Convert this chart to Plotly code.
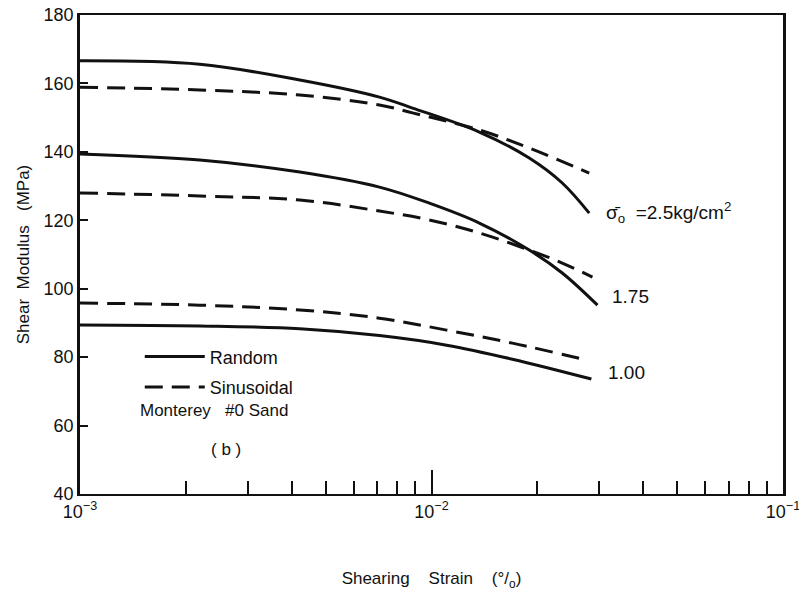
import math
import plotly.graph_objects as go

# ---- data (shear strain in %, shear modulus in MPa) ----
strain_r25 = [0.0010, 0.00219, 0.00422, 0.00711, 0.00883, 0.01368, 0.01897, 0.02355, 0.0281]
g_r25 = [166.6, 165.6, 161.0, 156.0, 152.8, 145.8, 138.2, 130.9, 122.1]

strain_s25 = [0.0010, 0.00219, 0.00422, 0.00711, 0.00883, 0.01368, 0.01897, 0.0281]
g_s25 = [158.9, 158.1, 156.6, 153.7, 151.4, 146.4, 141.1, 133.8]

strain_r175 = [0.0010, 0.00219, 0.00422, 0.00711, 0.00986, 0.01368, 0.01897, 0.02355, 0.02966]
g_r175 = [139.4, 137.6, 134.1, 129.7, 125.0, 119.2, 111.3, 104.6, 95.2]

strain_s175 = [0.0010, 0.00219, 0.00422, 0.00711, 0.00986, 0.01368, 0.01897, 0.02355, 0.0287]
g_s175 = [128.0, 127.1, 125.9, 122.7, 120.1, 116.3, 111.3, 107.5, 103.4]

strain_r100 = [0.0010, 0.00219, 0.00422, 0.00711, 0.01104, 0.01698, 0.0285]
g_r100 = [89.4, 89.1, 88.3, 86.3, 83.5, 79.4, 73.6]

strain_s100 = [0.0010, 0.00219, 0.00422, 0.00711, 0.01104, 0.01698, 0.02754]
g_s100 = [95.8, 95.2, 93.8, 91.4, 87.9, 84.1, 79.2]

curve_labels = ["σ̄<sub>o</sub>  =2.5kg/cm<sup>2</sup>", "1.75", "1.00"]
label_x = [0.031, 0.0321, 0.0314]
label_y = [122.4, 97.6, 75.4]

x_major = [0.001, 0.01, 0.1]
x_major_text = ["10<sup>−3</sup>", "10<sup>−2</sup>", "10<sup>−1</sup>"]
x_minor = [2e-3, 3e-3, 4e-3, 5e-3, 6e-3, 7e-3, 8e-3, 9e-3,
           2e-2, 3e-2, 4e-2, 5e-2, 6e-2, 7e-2, 8e-2, 9e-2]
y_ticks = [40, 60, 80, 100, 120, 140, 160, 180]

FONT = "Liberation Sans, Arial, sans-serif"
INK = "#111111"

fig = go.Figure()

random_sets = [(strain_r25, g_r25), (strain_r175, g_r175), (strain_r100, g_r100)]
sinus_sets = [(strain_s25, g_s25), (strain_s175, g_s175), (strain_s100, g_s100)]

for i, (xs, ys) in enumerate(random_sets):
    fig.add_trace(go.Scatter(
        x=xs, y=ys, mode="lines", line=dict(color=INK, width=3, shape="spline", smoothing=1.0),
        name="Random", legendgroup="r", showlegend=(i == 0)))
for i, (xs, ys) in enumerate(sinus_sets):
    fig.add_trace(go.Scatter(
        x=xs, y=ys, mode="lines",
        line=dict(color=INK, width=3, dash="18px,9px", shape="spline", smoothing=1.0),
        name="Sinusoidal", legendgroup="s", showlegend=(i == 0)))

for txt, lx, ly in zip(curve_labels, label_x, label_y):
    fig.add_annotation(x=math.log10(lx), y=ly, xref="x", yref="y", text=txt, showarrow=False,
                       xanchor="left", yanchor="middle",
                       font=dict(family=FONT, size=19, color=INK))

fig.add_annotation(x=0.0825, y=0.175, xref="paper", yref="paper",
                   text="Monterey   #0 Sand", showarrow=False, xanchor="left", yanchor="middle",
                   font=dict(family=FONT, size=17, color=INK))
fig.add_annotation(x=0.208, y=0.092, xref="paper", yref="paper",
                   text="( b )", showarrow=False, xanchor="center", yanchor="middle",
                   font=dict(family=FONT, size=17, color=INK))

fig.update_layout(
    width=799, height=593,
    margin=dict(l=80, r=16, t=15, b=99),
    paper_bgcolor="white", plot_bgcolor="white",
    font=dict(family=FONT, color=INK),
    showlegend=True,
    legend=dict(x=0.085, y=0.325, xanchor="left", yanchor="top",
                bgcolor="rgba(0,0,0,0)", font=dict(family=FONT, size=18, color=INK),
                traceorder="grouped", tracegroupgap=4, itemwidth=60),
    xaxis=dict(type="log", range=[-3, -1], showgrid=False, zeroline=False, automargin=False,
               showline=True, linecolor=INK, linewidth=2, mirror=True,
               tickmode="array", tickvals=x_major, ticktext=x_major_text,
               ticks="inside", ticklen=24, tickwidth=1.5, tickcolor=INK,
               ticklabeloverflow="allow",
               tickfont=dict(family=FONT, size=18, color=INK),
               minor=dict(tickmode="array", tickvals=x_minor, ticks="inside",
                          ticklen=13, tickwidth=1.5, tickcolor=INK, showgrid=False),
               title=dict(text="Shearing    Strain    (°/<sub>o</sub>)", standoff=52,
                          font=dict(family=FONT, size=17, color=INK))),
    yaxis=dict(range=[40, 180], showgrid=False, zeroline=False, automargin=False,
               showline=True, linecolor=INK, linewidth=2.5, mirror=True,
               tickmode="array", tickvals=y_ticks,
               ticks="inside", ticklen=8, tickwidth=1.5, tickcolor=INK,
               tickfont=dict(family=FONT, size=18, color=INK),
               title=dict(text="Shear  Modulus   (MPa)", standoff=10,
                          font=dict(family=FONT, size=17, color=INK))),
)

fig.write_html("out.html")
